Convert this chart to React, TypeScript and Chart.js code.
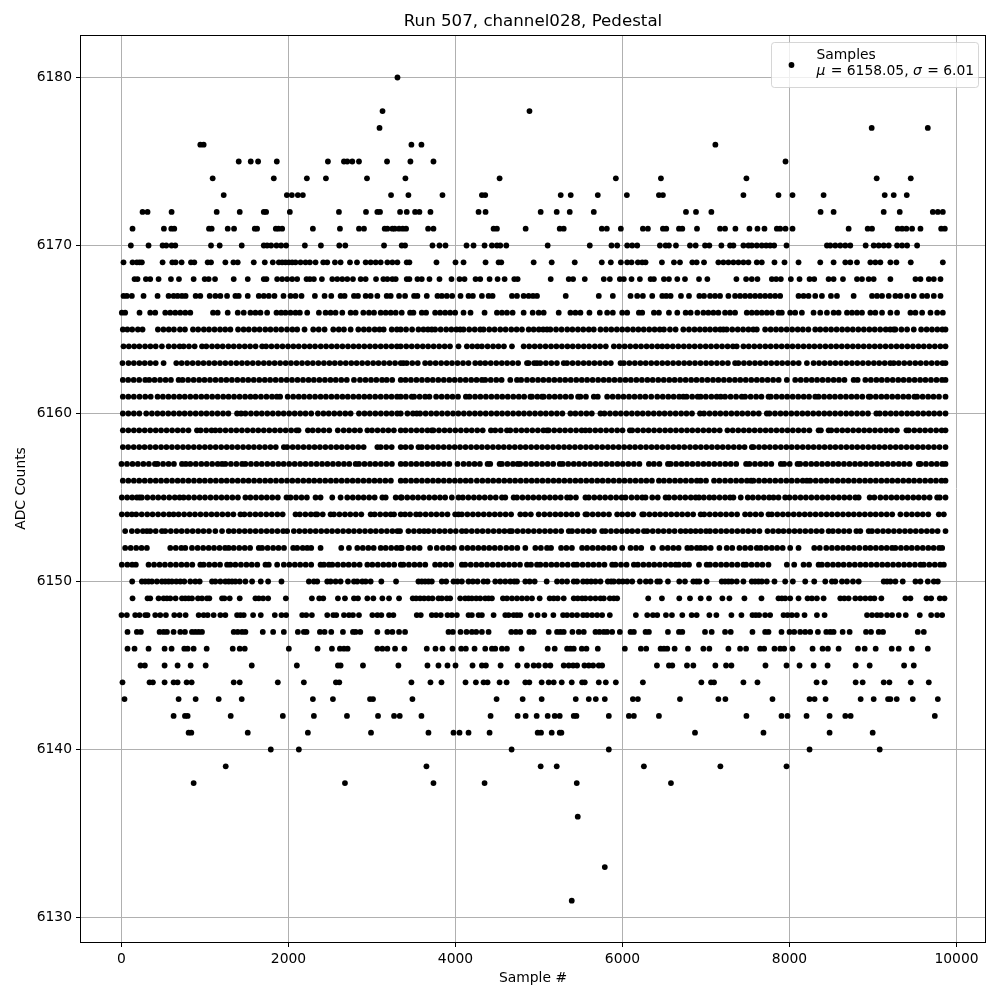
import React, { useEffect, useRef } from "react";
import { Chart, registerables } from "chart.js";

Chart.register(...registerables);

const title = "Run 507, channel028, Pedestal";
const xLabel = "Sample #";
const yLabel = "ADC Counts";
const seriesName = "Samples";
const statMu = "6158.05";
const statSigma = "6.01";
const xTicks = [0, 2000, 4000, 6000, 8000, 10000];
const yTicks = [6130, 6140, 6150, 6160, 6170, 6180];

const s6180 = [3305];
const s6178 = [3126, 4886];
const s6177 = [3090, 8984, 9656];
const s6176 = [944, 984, 3472, 3592, 7112];
const s6175 = [1404, 1548, 1636, 1860, 2472, 2664, 2704, 2764, 2844, 3180, 3460, 3736, 7952];
const s6174 = [1092, 1824, 2220, 2448, 2940, 3400, 4528, 5920, 6460, 7484, 9044, 9452];
const s6173 = [1224, 1980, 2040, 2112, 2172, 3228, 3436, 3844, 4316, 4356, 5260, 5380, 5704, 6052, 6436, 6484, 7448, 7868, 8036, 8408, 9140, 9248, 9404];
const s6172 = [252, 312, 600, 1140, 1416, 1704, 1732, 2016, 2604, 2928, 3064, 3096, 3336, 3416, 3516, 3568, 3700, 4276, 4360, 5020, 5212, 5368, 5656, 6760, 6880, 7064, 8372, 8528, 9128, 9320, 9716, 9776, 9836];
const s6171 = [132, 508, 596, 632, 1048, 1080, 1272, 1348, 1596, 1624, 1848, 1880, 1924, 2292, 2616, 2844, 2904, 3152, 3184, 3244, 3272, 3324, 3368, 3408, 3672, 3736, 4456, 4496, 4840, 5248, 5296, 5752, 5812, 5980, 6244, 6304, 6484, 6524, 6676, 6716, 6892, 7168, 7228, 7352, 7520, 7616, 7700, 7848, 7888, 7952, 8036, 8708, 8936, 8988, 9296, 9348, 9400, 9468, 9568, 9816, 9860];
const s6170 = [112, 324, 492, 536, 600, 644, 1072, 1176, 1440, 1704, 1744, 1792, 1856, 1912, 1972, 2196, 2388, 2608, 2680, 3144, 3356, 3396, 3724, 3808, 3880, 4132, 4216, 4348, 4436, 4496, 4536, 4608, 5104, 5608, 5868, 5936, 6056, 6116, 6176, 6448, 6516, 6556, 6640, 6808, 6876, 6988, 7040, 7184, 7288, 7328, 7448, 7508, 7548, 7608, 7668, 7720, 7768, 7816, 7964, 8448, 8488, 8548, 8608, 8668, 8728, 8912, 9008, 9068, 9128, 9188, 9288, 9348, 9408, 9528];
const s6169 = [24, 132, 184, 216, 244, 492, 608, 648, 720, 832, 872, 1032, 1072, 1244, 1340, 1392, 1584, 1716, 1812, 1884, 1924, 1964, 2004, 2044, 2084, 2144, 2204, 2256, 2324, 2416, 2464, 2556, 2624, 2736, 2820, 2924, 2984, 3044, 3104, 3184, 3244, 3304, 3416, 3448, 3772, 4000, 4096, 4360, 4516, 4548, 4936, 5152, 5428, 5752, 5860, 5980, 6056, 6108, 6184, 6236, 6276, 6472, 6616, 6688, 6836, 6888, 6976, 7148, 7208, 7268, 7328, 7388, 7448, 7508, 7608, 7668, 7820, 7940, 8108, 8368, 8528, 8668, 8728, 8808, 8968, 9028, 9088, 9208, 9280, 9452, 9836];
const s6168 = [156, 192, 292, 344, 444, 592, 688, 864, 996, 1044, 1120, 1344, 1512, 1704, 1736, 1864, 1924, 1984, 2044, 2104, 2216, 2256, 2304, 2400, 2524, 2584, 2644, 2704, 2772, 2864, 2924, 3048, 3136, 3184, 3244, 3284, 3416, 3448, 3544, 3596, 3688, 3808, 3952, 4048, 4108, 4240, 4296, 4408, 4504, 4588, 4704, 4744, 5140, 5356, 5408, 5548, 5776, 5848, 5968, 6016, 6108, 6208, 6336, 6376, 6496, 6556, 6656, 6748, 6916, 7016, 7364, 7480, 7548, 7616, 7788, 7840, 7896, 8016, 8120, 8240, 8296, 8468, 8528, 8640, 8808, 8868, 8948, 9008, 9208, 9508, 9568, 9668, 9728, 9808];
const s6167 = [24, 64, 124, 264, 432, 564, 624, 672, 724, 768, 888, 944, 1056, 1124, 1184, 1264, 1364, 1404, 1512, 1644, 1704, 1764, 1832, 1940, 2024, 2084, 2156, 2316, 2432, 2512, 2624, 2672, 2784, 2832, 2924, 2984, 3064, 3176, 3224, 3324, 3396, 3504, 3544, 3656, 3784, 3836, 3896, 3960, 4060, 4156, 4208, 4316, 4396, 4444, 4676, 4736, 4816, 4876, 4928, 4976, 5320, 5716, 5884, 6096, 6176, 6244, 6356, 6476, 6524, 6576, 6700, 6796, 6920, 6976, 7048, 7108, 7168, 7268, 7348, 7408, 7468, 7528, 7588, 7648, 7708, 7768, 7828, 7888, 8108, 8168, 8228, 8308, 8388, 8496, 8568, 8768, 8988, 9048, 9108, 9188, 9268, 9328, 9408, 9488, 9588, 9648, 9728, 9808];
const s6166 = [4, 44, 216, 344, 404, 524, 584, 644, 704, 764, 824, 1096, 1152, 1272, 1392, 1464, 1544, 1604, 1664, 1744, 1856, 1912, 1964, 2024, 2084, 2136, 2224, 2364, 2444, 2504, 2564, 2644, 2744, 2804, 2896, 2964, 3024, 3104, 3164, 3224, 3284, 3356, 3456, 3496, 3596, 3648, 3756, 3816, 3876, 3936, 3996, 4096, 4180, 4348, 4496, 4556, 4616, 4684, 4816, 4924, 4996, 5056, 5236, 5376, 5436, 5496, 5604, 5728, 5816, 5884, 5996, 6056, 6196, 6236, 6376, 6436, 6556, 6656, 6756, 6816, 6896, 6968, 7028, 7088, 7148, 7228, 7288, 7348, 7488, 7548, 7608, 7668, 7728, 7788, 7868, 7908, 8008, 8068, 8148, 8288, 8368, 8448, 8528, 8588, 8688, 8748, 8808, 8868, 8968, 9028, 9108, 9208, 9288, 9448, 9508, 9588, 9688, 9768, 9836];

const s6165 = [16, 70, 128, 196, 252, 436, 502, 566, 628, 700, 760, 856, 918, 986, 1048, 1114, 1180, 1242, 1304, 1396, 1462, 1524, 1592, 1654, 1722, 1784, 1850, 1914, 1982, 2046, 2104, 2192, 2296, 2362, 2432, 2536, 2602, 2664, 2744, 2836, 2902, 2964, 3032, 3090, 3140, 3236, 3298, 3344, 3408, 3480, 3556, 3616, 3670, 3716, 3756, 3822, 3888, 3950, 4010, 4056, 4096, 4164, 4230, 4296, 4336, 4404, 4468, 4536, 4600, 4668, 4732, 4796, 4876, 4936, 4998, 5050, 5096, 5136, 5204, 5270, 5338, 5400, 5466, 5530, 5596, 5656, 5736, 5802, 5866, 5932, 5996, 6060, 6126, 6190, 6254, 6320, 6384, 6446, 6496, 6568, 6636, 6728, 6796, 6862, 6926, 6988, 7048, 7112, 7170, 7208, 7248, 7314, 7380, 7444, 7508, 7566, 7608, 7708, 7774, 7838, 7900, 7966, 8032, 8098, 8160, 8226, 8308, 8368, 8434, 8498, 8564, 8630, 8694, 8758, 8824, 8890, 8956, 9020, 9086, 9152, 9206, 9248, 9268, 9340, 9408, 9488, 9576, 9642, 9706, 9770, 9830, 9868];
const s6164 = [24, 88, 152, 214, 282, 346, 410, 484, 564, 630, 696, 744, 808, 876, 964, 1016, 1084, 1148, 1212, 1280, 1344, 1410, 1476, 1540, 1606, 1684, 1732, 1796, 1862, 1928, 1994, 2058, 2122, 2190, 2254, 2318, 2386, 2450, 2516, 2580, 2646, 2712, 2778, 2842, 2908, 2974, 3038, 3104, 3168, 3234, 3298, 3344, 3410, 3476, 3542, 3608, 3672, 3738, 3804, 3870, 3934, 4036, 4136, 4200, 4262, 4316, 4384, 4450, 4514, 4580, 4676, 4816, 4882, 4948, 5012, 5078, 5144, 5208, 5274, 5340, 5404, 5470, 5536, 5600, 5668, 5732, 5800, 5896, 5960, 6026, 6092, 6158, 6222, 6288, 6352, 6418, 6476, 6536, 6602, 6668, 6734, 6798, 6864, 6930, 6996, 7060, 7126, 7192, 7258, 7322, 7368, 7448, 7512, 7578, 7644, 7710, 7774, 7840, 7906, 7972, 8036, 8102, 8168, 8234, 8298, 8364, 8430, 8496, 8560, 8626, 8692, 8758, 8822, 8888, 8954, 9020, 9084, 9150, 9216, 9282, 9346, 9412, 9478, 9544, 9608, 9674, 9740, 9806, 9868];
const s6163 = [12, 84, 148, 214, 278, 344, 410, 504, 656, 720, 786, 852, 918, 982, 1048, 1114, 1180, 1244, 1310, 1376, 1442, 1506, 1572, 1638, 1704, 1768, 1834, 1900, 1966, 2030, 2096, 2162, 2228, 2292, 2358, 2424, 2490, 2554, 2620, 2686, 2752, 2816, 2882, 2948, 3014, 3078, 3144, 3210, 3276, 3344, 3376, 3416, 3482, 3548, 3636, 3696, 3762, 3828, 3894, 3958, 4024, 4090, 4156, 4236, 4296, 4356, 4422, 4488, 4554, 4618, 4684, 4750, 4856, 4876, 4942, 4976, 5016, 5082, 5148, 5214, 5296, 5336, 5402, 5468, 5534, 5598, 5664, 5730, 5796, 5860, 5976, 6016, 6082, 6148, 6214, 6278, 6344, 6410, 6476, 6540, 6606, 6672, 6738, 6802, 6868, 6934, 7000, 7064, 7130, 7196, 7262, 7348, 7388, 7454, 7520, 7586, 7650, 7716, 7782, 7848, 7912, 7978, 8044, 8110, 8208, 8288, 8354, 8420, 8486, 8550, 8616, 8682, 8748, 8812, 8878, 8944, 9010, 9074, 9140, 9206, 9248, 9308, 9374, 9440, 9506, 9570, 9636, 9702, 9768, 9832, 9868];
const s6162 = [16, 80, 146, 212, 284, 332, 396, 462, 528, 592, 684, 732, 798, 864, 930, 994, 1060, 1126, 1192, 1256, 1322, 1388, 1454, 1518, 1584, 1650, 1716, 1780, 1846, 1912, 1978, 2042, 2108, 2174, 2240, 2304, 2370, 2436, 2502, 2566, 2632, 2698, 2784, 2856, 2922, 2988, 3052, 3120, 3176, 3242, 3344, 3402, 3466, 3532, 3598, 3664, 3728, 3794, 3860, 3926, 3990, 4056, 4122, 4188, 4252, 4316, 4356, 4422, 4488, 4552, 4656, 4736, 4786, 4856, 4922, 4988, 5052, 5118, 5184, 5250, 5314, 5380, 5446, 5512, 5576, 5642, 5708, 5774, 5838, 5904, 5970, 6036, 6100, 6166, 6232, 6298, 6362, 6428, 6494, 6560, 6624, 6690, 6756, 6822, 6886, 6952, 7018, 7084, 7148, 7214, 7280, 7346, 7410, 7476, 7542, 7608, 7672, 7738, 7804, 7870, 7968, 8068, 8134, 8200, 8266, 8330, 8396, 8462, 8528, 8592, 8658, 8768, 8816, 8908, 8974, 9040, 9104, 9170, 9236, 9302, 9366, 9432, 9498, 9564, 9628, 9694, 9760, 9826, 9868];
const s6161 = [16, 82, 148, 216, 284, 350, 432, 496, 562, 628, 694, 758, 824, 890, 956, 1020, 1086, 1152, 1218, 1282, 1348, 1414, 1480, 1544, 1604, 1670, 1736, 1802, 1860, 1900, 1990, 2056, 2122, 2186, 2252, 2318, 2384, 2448, 2514, 2580, 2646, 2710, 2776, 2842, 2908, 2972, 3038, 3104, 3170, 3234, 3300, 3344, 3406, 3476, 3504, 3570, 3636, 3688, 3768, 3834, 3900, 3964, 4030, 4124, 4168, 4234, 4298, 4364, 4430, 4496, 4560, 4626, 4692, 4758, 4822, 4896, 4916, 4980, 5036, 5056, 5122, 5188, 5252, 5318, 5384, 5468, 5496, 5562, 5656, 5704, 5816, 5882, 5948, 6012, 6078, 6144, 6210, 6274, 6344, 6416, 6482, 6548, 6612, 6678, 6728, 6768, 6834, 6900, 6936, 6998, 7064, 7128, 7176, 7228, 7294, 7360, 7428, 7468, 7534, 7600, 7664, 7748, 7776, 7842, 7908, 7972, 8038, 8104, 8170, 8234, 8308, 8348, 8414, 8480, 8544, 8610, 8676, 8742, 8806, 8872, 8948, 8968, 9034, 9100, 9164, 9230, 9296, 9362, 9426, 9496, 9528, 9594, 9660, 9724, 9790, 9868];
const s6160 = [16, 82, 148, 214, 296, 364, 430, 494, 560, 626, 692, 756, 822, 888, 954, 1018, 1084, 1150, 1216, 1280, 1384, 1432, 1484, 1550, 1616, 1680, 1746, 1812, 1878, 1942, 2008, 2074, 2140, 2204, 2272, 2352, 2418, 2482, 2548, 2614, 2680, 2744, 2844, 2910, 2974, 3040, 3106, 3172, 3236, 3302, 3344, 3424, 3490, 3536, 3576, 3642, 3708, 3772, 3838, 3904, 3970, 4034, 4100, 4166, 4232, 4296, 4362, 4428, 4494, 4558, 4624, 4690, 4756, 4820, 4886, 4952, 5018, 5082, 5148, 5214, 5280, 5376, 5436, 5502, 5568, 5632, 5736, 5784, 5850, 5916, 5980, 6046, 6112, 6178, 6242, 6308, 6374, 6440, 6504, 6570, 6636, 6702, 6766, 6832, 6928, 6976, 7042, 7108, 7172, 7238, 7304, 7370, 7434, 7500, 7566, 7632, 7728, 7760, 7826, 7892, 7956, 8022, 8088, 8154, 8218, 8284, 8350, 8416, 8480, 8546, 8612, 8678, 8742, 8808, 8874, 8940, 9040, 9080, 9146, 9212, 9276, 9342, 9408, 9470, 9536, 9602, 9668, 9732, 9798, 9868];
const s6159 = [16, 82, 148, 212, 278, 344, 410, 474, 540, 606, 672, 736, 802, 904, 948, 1014, 1078, 1124, 1180, 1246, 1312, 1376, 1442, 1508, 1574, 1638, 1704, 1770, 1836, 1900, 1966, 2032, 2096, 2120, 2232, 2290, 2356, 2422, 2488, 2590, 2660, 2726, 2792, 2856, 2944, 3000, 3066, 3132, 3196, 3262, 3344, 3402, 3468, 3534, 3598, 3664, 3716, 3736, 3802, 3868, 3932, 3998, 4064, 4130, 4194, 4260, 4326, 4424, 4476, 4542, 4616, 4656, 4724, 4790, 4854, 4920, 4986, 5052, 5096, 5116, 5182, 5248, 5312, 5378, 5444, 5510, 5556, 5608, 5674, 5738, 5804, 5870, 5936, 6000, 6088, 6116, 6182, 6248, 6312, 6378, 6444, 6510, 6574, 6640, 6706, 6772, 6836, 6902, 6968, 7034, 7098, 7164, 7256, 7320, 7386, 7452, 7516, 7582, 7648, 7714, 7778, 7844, 7910, 7976, 8040, 8106, 8172, 8238, 8348, 8376, 8468, 8500, 8566, 8632, 8696, 8762, 8828, 8894, 8958, 9024, 9090, 9156, 9220, 9286, 9400, 9428, 9494, 9560, 9624, 9690, 9756, 9822, 9868];
const s6158 = [16, 80, 146, 212, 276, 342, 408, 474, 538, 604, 670, 736, 800, 866, 932, 998, 1062, 1128, 1194, 1260, 1324, 1390, 1456, 1522, 1586, 1652, 1718, 1784, 1848, 1944, 1984, 2050, 2114, 2180, 2246, 2312, 2376, 2442, 2508, 2574, 2638, 2704, 2770, 2836, 2900, 3064, 3104, 3170, 3236, 3344, 3402, 3468, 3556, 3596, 3662, 3728, 3792, 3858, 3924, 3990, 4054, 4120, 4186, 4252, 4316, 4382, 4448, 4514, 4578, 4644, 4710, 4776, 4840, 4906, 4972, 5038, 5102, 5168, 5234, 5300, 5364, 5430, 5496, 5562, 5626, 5692, 5758, 5824, 5888, 5954, 6020, 6086, 6150, 6216, 6282, 6348, 6412, 6478, 6544, 6610, 6674, 6740, 6808, 6874, 6938, 7004, 7070, 7136, 7200, 7266, 7332, 7398, 7462, 7548, 7568, 7634, 7700, 7764, 7830, 7896, 7962, 8026, 8092, 8158, 8224, 8288, 8354, 8420, 8486, 8550, 8616, 8682, 8748, 8812, 8878, 8944, 9010, 9074, 9140, 9206, 9272, 9336, 9402, 9468, 9534, 9598, 9664, 9730, 9796, 9868];
const s6157 = [0, 66, 132, 196, 262, 328, 400, 432, 498, 564, 628, 724, 770, 824, 890, 956, 1020, 1086, 1152, 1204, 1244, 1310, 1376, 1444, 1484, 1550, 1616, 1680, 1746, 1812, 1878, 1942, 2008, 2074, 2140, 2204, 2270, 2336, 2402, 2466, 2532, 2598, 2664, 2728, 2804, 2844, 2910, 2976, 3040, 3106, 3172, 3238, 3344, 3402, 3468, 3532, 3598, 3664, 3730, 3794, 3860, 3926, 4024, 4096, 4162, 4228, 4292, 4384, 4416, 4528, 4556, 4622, 4688, 4744, 4776, 4842, 4908, 4972, 5038, 5104, 5170, 5248, 5284, 5350, 5416, 5480, 5546, 5612, 5678, 5742, 5808, 5874, 5940, 6004, 6070, 6136, 6202, 6316, 6376, 6442, 6544, 6576, 6642, 6708, 6772, 6838, 6904, 6970, 7034, 7100, 7166, 7232, 7296, 7362, 7480, 7520, 7586, 7652, 7716, 7782, 7896, 7936, 8002, 8096, 8128, 8194, 8260, 8324, 8390, 8456, 8522, 8586, 8652, 8718, 8784, 8848, 8914, 8980, 9046, 9110, 9176, 9242, 9308, 9372, 9438, 9548, 9568, 9634, 9700, 9764, 9830, 9868];
const s6156 = [16, 82, 148, 212, 278, 344, 410, 474, 540, 606, 672, 736, 802, 868, 934, 998, 1064, 1130, 1196, 1260, 1326, 1392, 1458, 1522, 1588, 1654, 1720, 1784, 1850, 1916, 1982, 2046, 2112, 2178, 2244, 2308, 2374, 2440, 2506, 2570, 2636, 2702, 2768, 2832, 2898, 2964, 3030, 3094, 3160, 3226, 3344, 3402, 3468, 3532, 3598, 3664, 3730, 3794, 3860, 3926, 3992, 4056, 4122, 4184, 4256, 4322, 4388, 4452, 4518, 4584, 4650, 4714, 4780, 4846, 4912, 4976, 5042, 5108, 5174, 5238, 5304, 5370, 5436, 5500, 5566, 5632, 5698, 5762, 5828, 5894, 5960, 6024, 6090, 6156, 6222, 6286, 6352, 6436, 6496, 6562, 6628, 6692, 6758, 6824, 6890, 6936, 7000, 7096, 7160, 7228, 7294, 7360, 7424, 7490, 7540, 7568, 7634, 7700, 7764, 7830, 7896, 7962, 8026, 8092, 8158, 8208, 8248, 8314, 8380, 8444, 8510, 8576, 8642, 8706, 8772, 8838, 8904, 8968, 9034, 9100, 9166, 9230, 9296, 9362, 9428, 9492, 9558, 9624, 9690, 9754, 9820, 9868];
const s6155 = [4, 68, 128, 184, 216, 244, 310, 376, 440, 506, 572, 638, 696, 744, 804, 870, 936, 1000, 1066, 1132, 1198, 1262, 1328, 1394, 1484, 1544, 1610, 1676, 1740, 1806, 1872, 1976, 2024, 2090, 2156, 2220, 2324, 2384, 2524, 2624, 2704, 2770, 2836, 2900, 2966, 3032, 3124, 3164, 3284, 3344, 3356, 3422, 3488, 3552, 3618, 3684, 3750, 3814, 3876, 3956, 4036, 4088, 4154, 4220, 4284, 4350, 4416, 4482, 4556, 4596, 4696, 4736, 4802, 4868, 4932, 4998, 5064, 5130, 5194, 5260, 5336, 5376, 5442, 5556, 5596, 5662, 5728, 5792, 5858, 5924, 5990, 6036, 6108, 6174, 6236, 6276, 6356, 6422, 6516, 6556, 6622, 6688, 6752, 6818, 6876, 6916, 6974, 7040, 7096, 7162, 7228, 7288, 7328, 7416, 7500, 7560, 7626, 7692, 7756, 7808, 7868, 7948, 8000, 8066, 8132, 8196, 8262, 8328, 8394, 8458, 8524, 8590, 8656, 8720, 8788, 8828, 8960, 9016, 9088, 9154, 9220, 9284, 9350, 9416, 9482, 9546, 9612, 9678, 9768, 9800, 9868];
const s6154 = [4, 68, 124, 176, 242, 308, 372, 438, 504, 570, 624, 684, 750, 816, 880, 946, 1012, 1078, 1142, 1208, 1274, 1340, 1424, 1472, 1538, 1604, 1668, 1734, 1800, 1866, 1930, 2084, 2136, 2202, 2268, 2324, 2344, 2410, 2504, 2544, 2610, 2676, 2740, 2806, 2872, 2984, 3032, 3098, 3164, 3224, 3264, 3344, 3396, 3456, 3528, 3576, 3642, 3708, 3772, 3838, 3904, 3996, 4036, 4076, 4142, 4208, 4272, 4338, 4404, 4470, 4534, 4600, 4666, 4776, 4836, 4902, 4996, 5064, 5130, 5196, 5260, 5326, 5392, 5458, 5556, 5576, 5642, 5708, 5772, 5838, 5936, 5996, 6062, 6128, 6236, 6256, 6322, 6388, 6452, 6518, 6584, 6650, 6714, 6780, 6846, 6936, 6978, 7044, 7110, 7174, 7240, 7306, 7372, 7468, 7528, 7594, 7660, 7748, 7788, 7854, 7920, 7984, 8050, 8116, 8182, 8246, 8312, 8378, 8444, 8508, 8574, 8640, 8706, 8770, 8836, 8902, 8968, 9032, 9098, 9164, 9230, 9328, 9400, 9466, 9532, 9596, 9662, 9788, 9848];
const s6153 = [44, 124, 190, 256, 304, 344, 410, 484, 524, 590, 656, 720, 786, 852, 918, 982, 1048, 1124, 1204, 1284, 1344, 1410, 1476, 1540, 1606, 1672, 1738, 1802, 1868, 1936, 1984, 2064, 2130, 2196, 2260, 2326, 2392, 2458, 2522, 2588, 2654, 2720, 2784, 2850, 2916, 2982, 3046, 3112, 3178, 3244, 3304, 3336, 3436, 3502, 3568, 3624, 3676, 3742, 3808, 3872, 3938, 4004, 4076, 4128, 4194, 4260, 4324, 4390, 4456, 4522, 4586, 4648, 4676, 4742, 4808, 4872, 4938, 5004, 5070, 5134, 5200, 5266, 5356, 5396, 5462, 5528, 5592, 5658, 5756, 5796, 5862, 5928, 5992, 6056, 6116, 6182, 6256, 6296, 6362, 6428, 6492, 6558, 6624, 6696, 6756, 6816, 6876, 6936, 7000, 7048, 7114, 7180, 7244, 7310, 7376, 7442, 7506, 7572, 7640, 7736, 7802, 7868, 7928, 7994, 8060, 8124, 8190, 8256, 8322, 8386, 8468, 8520, 8586, 8652, 8716, 8800, 8848, 8948, 8988, 9054, 9120, 9184, 9250, 9316, 9382, 9446, 9512, 9578, 9644, 9708, 9774, 9868];
const s6152 = [44, 110, 176, 240, 304, 584, 650, 716, 764, 844, 912, 978, 1044, 1108, 1174, 1240, 1284, 1344, 1410, 1476, 1540, 1644, 1684, 1750, 1816, 1880, 1946, 2056, 2104, 2170, 2224, 2272, 2384, 2632, 2724, 2824, 2890, 2956, 3020, 3104, 3164, 3230, 3296, 3344, 3356, 3436, 3504, 3570, 3696, 3776, 3848, 3914, 3980, 4076, 4144, 4208, 4274, 4340, 4404, 4470, 4536, 4608, 4674, 4740, 4836, 4956, 5022, 5096, 5144, 5264, 5328, 5394, 5516, 5576, 5642, 5708, 5772, 5838, 5904, 5996, 6096, 6162, 6224, 6364, 6476, 6542, 6608, 6672, 6776, 6824, 6890, 6936, 6990, 7056, 7160, 7248, 7314, 7400, 7468, 7534, 7608, 7656, 7722, 7788, 7852, 7918, 8008, 8108, 8296, 8362, 8440, 8508, 8574, 8640, 8704, 8770, 8836, 8908, 8968, 9034, 9100, 9164, 9228, 9268, 9334, 9400, 9464, 9530, 9596, 9662, 9726, 9792, 9828];
const s6151 = [4, 70, 128, 172, 324, 390, 456, 520, 586, 652, 718, 782, 848, 944, 984, 1050, 1116, 1180, 1264, 1304, 1364, 1430, 1496, 1560, 1626, 1724, 1764, 1864, 1944, 2010, 2076, 2140, 2206, 2272, 2384, 2424, 2484, 2524, 2590, 2656, 2720, 2786, 2852, 2944, 3004, 3070, 3136, 3200, 3266, 3344, 3376, 3442, 3508, 3572, 3638, 3756, 3816, 3882, 3948, 4076, 4116, 4182, 4248, 4312, 4378, 4444, 4510, 4574, 4640, 4706, 4772, 4856, 4904, 4976, 5016, 5082, 5148, 5212, 5278, 5344, 5416, 5456, 5522, 5588, 5652, 5718, 5784, 5876, 5916, 5982, 6048, 6136, 6184, 6250, 6316, 6380, 6446, 6512, 6578, 6636, 6676, 6742, 6796, 6916, 7008, 7048, 7114, 7180, 7244, 7310, 7376, 7448, 7480, 7546, 7612, 7676, 7748, 7968, 8056, 8168, 8234, 8348, 8388, 8454, 8520, 8584, 8648, 8716, 8782, 8848, 8912, 8978, 9044, 9110, 9174, 9240, 9306, 9372, 9436, 9502, 9568, 9608, 9674, 9740, 9804, 9848];

const s6150 = [128, 244, 284, 324, 364, 424, 484, 524, 564, 604, 656, 704, 752, 824, 884, 936, 1084, 1124, 1184, 1244, 1284, 1324, 1364, 1416, 1484, 1564, 1668, 1756, 1916, 2244, 2304, 2344, 2464, 2504, 2564, 2624, 2712, 2784, 2824, 2884, 2924, 2984, 3112, 3288, 3556, 3596, 3636, 3676, 3716, 3836, 3888, 3976, 4024, 4076, 4156, 4208, 4264, 4336, 4384, 4476, 4536, 4596, 4656, 4704, 4736, 4836, 4888, 4948, 5092, 5216, 5276, 5336, 5416, 5456, 5528, 5576, 5624, 5676, 5736, 5824, 5864, 5896, 5956, 6004, 6056, 6116, 6208, 6280, 6336, 6416, 6448, 6544, 6680, 6748, 6848, 6888, 6920, 7008, 7188, 7228, 7268, 7308, 7368, 7448, 7548, 7588, 7628, 7668, 7728, 7820, 7948, 8040, 8188, 8296, 8428, 8508, 8548, 8628, 8688, 8760, 8828, 9128, 9168, 9208, 9268, 9356, 9508, 9568, 9656, 9728, 9776];
const s6149 = [132, 312, 344, 444, 504, 544, 584, 648, 724, 764, 804, 844, 916, 964, 1024, 1052, 1204, 1232, 1296, 1416, 1604, 1644, 1696, 1756, 1968, 2280, 2368, 2416, 2592, 2676, 2784, 2832, 2944, 3016, 3124, 3204, 3324, 3488, 3528, 3576, 3624, 3676, 3724, 3796, 3836, 3896, 3936, 4056, 4116, 4156, 4196, 4248, 4296, 4356, 4396, 4436, 4568, 4616, 4676, 4736, 4796, 4856, 4916, 5008, 5128, 5176, 5224, 5296, 5416, 5464, 5516, 5556, 5616, 5676, 5736, 5776, 5848, 5896, 5936, 6308, 6472, 6680, 6808, 6936, 7036, 7196, 7280, 7460, 7664, 7868, 7908, 7948, 8008, 8108, 8216, 8268, 8328, 8408, 8608, 8656, 8708, 8788, 8848, 8908, 8968, 9016, 9100, 9388, 9448, 9640, 9696, 9800, 9856];
const s6148 = [0, 64, 164, 216, 284, 312, 404, 464, 532, 632, 696, 768, 924, 984, 1032, 1104, 1184, 1244, 1384, 1424, 1464, 1576, 1668, 1836, 1916, 1972, 2164, 2212, 2280, 2464, 2536, 2572, 2664, 2724, 2772, 2844, 3004, 3064, 3112, 3204, 3256, 3536, 3584, 3716, 3768, 3824, 3904, 3956, 4016, 4156, 4196, 4276, 4316, 4456, 4596, 4636, 4696, 4736, 4776, 4904, 4984, 5064, 5172, 5288, 5336, 5396, 5456, 5528, 5576, 5636, 5696, 5756, 5848, 6160, 6296, 6364, 6416, 6520, 6592, 6716, 6828, 6888, 7040, 7124, 7304, 7424, 7556, 7596, 7636, 7708, 7768, 7928, 7976, 8028, 8088, 8180, 8328, 8420, 8928, 8988, 9048, 9096, 9168, 9228, 9308, 9392, 9560, 9696, 9768, 9828];
const s6147 = [72, 184, 232, 456, 504, 544, 624, 704, 760, 844, 884, 924, 964, 1344, 1392, 1444, 1484, 1692, 1816, 1944, 2112, 2184, 2216, 2376, 2432, 2512, 2652, 2772, 2804, 2860, 3064, 3184, 3244, 3324, 3396, 3916, 3968, 4060, 4132, 4196, 4248, 4316, 4396, 4668, 4724, 4776, 4884, 4936, 5116, 5216, 5256, 5296, 5400, 5476, 5536, 5676, 5724, 5776, 5816, 5876, 5968, 6096, 6136, 6276, 6316, 6544, 6676, 6716, 6988, 7068, 7228, 7296, 7556, 7708, 7748, 7904, 8000, 8056, 8128, 8188, 8248, 8340, 8440, 8488, 8528, 8636, 8720, 8916, 8976, 9068, 9120, 9536, 9608];
const s6146 = [72, 156, 324, 516, 600, 752, 792, 864, 1020, 1332, 1416, 1476, 2004, 2348, 2520, 2616, 2664, 2708, 3064, 3124, 3184, 3276, 3388, 3656, 3760, 3844, 3964, 4068, 4124, 4228, 4356, 4436, 4476, 4556, 4616, 4792, 5104, 5188, 5336, 5376, 5416, 5512, 5568, 5704, 6028, 6220, 6284, 6456, 6496, 6536, 6624, 6784, 6968, 7040, 7268, 7408, 7480, 7648, 7696, 7820, 7888, 7936, 8036, 8276, 8396, 8460, 8588, 8820, 8900, 9032, 9224, 9308, 9464, 9656];
const s6145 = [228, 280, 516, 672, 828, 1008, 1560, 2100, 2592, 2624, 2892, 3316, 3664, 3796, 3904, 4000, 4204, 4316, 4364, 4540, 4744, 4856, 4936, 4996, 5076, 5136, 5296, 5356, 5408, 5456, 5544, 5596, 5648, 5716, 5756, 6412, 6556, 6596, 6772, 6848, 7112, 7240, 7304, 7712, 7964, 8120, 8288, 8456, 8792, 8960, 9372, 9488];
const s6144 = [12, 336, 376, 516, 624, 672, 780, 840, 1344, 1416, 1872, 2184, 2568, 2608, 3472, 3700, 3832, 4120, 4244, 4336, 4384, 4528, 4612, 4836, 4884, 5032, 5116, 5176, 5272, 5392, 5516, 5548, 5716, 5800, 5920, 6244, 6944, 7060, 7096, 7448, 7616, 8324, 8420, 8792, 8876, 9128, 9196, 9452, 9668];
const s6143 = [36, 684, 888, 1164, 1440, 2292, 2532, 2976, 3012, 3484, 4492, 4804, 5032, 5440, 5596, 5680, 5788, 6124, 6184, 6688, 7148, 7232, 7796, 8240, 8300, 8432, 8852, 9008, 9180, 9208, 9284, 9476, 9776];
const s6142 = [624, 760, 792, 1308, 1932, 2304, 2700, 3072, 3264, 3332, 3592, 4420, 4744, 4840, 4972, 5104, 5188, 5248, 5416, 5448, 5836, 6076, 6136, 6436, 7484, 7904, 7976, 8204, 8480, 8668, 8732, 9740];
const s6141 = [804, 836, 1512, 2232, 2988, 3676, 3976, 4048, 4156, 4408, 4984, 5024, 5152, 5248, 5268, 6868, 7688, 8480, 8996];
const s6140 = [1788, 2124, 4672, 5836, 8240, 9080];
const s6139 = [1248, 3652, 5020, 5212, 6256, 7172, 7964];
const s6138 = [864, 2676, 3736, 4348, 5452, 6580];
const s6136 = [5464];
const s6133 = [5788];
const s6131 = [5392];

const levels: [number, number[]][] = [
  [6180, s6180], [6178, s6178], [6177, s6177], [6176, s6176], [6175, s6175], [6174, s6174],
  [6173, s6173], [6172, s6172], [6171, s6171], [6170, s6170], [6169, s6169], [6168, s6168],
  [6167, s6167], [6166, s6166], [6165, s6165], [6164, s6164], [6163, s6163], [6162, s6162],
  [6161, s6161], [6160, s6160], [6159, s6159], [6158, s6158], [6157, s6157], [6156, s6156],
  [6155, s6155], [6154, s6154], [6153, s6153], [6152, s6152], [6151, s6151], [6150, s6150],
  [6149, s6149], [6148, s6148], [6147, s6147], [6146, s6146], [6145, s6145], [6144, s6144],
  [6143, s6143], [6142, s6142], [6141, s6141], [6140, s6140], [6139, s6139], [6138, s6138],
  [6136, s6136], [6133, s6133], [6131, s6131],
];

const FONT = "'DejaVu Sans'";

const framePlugin = {
  id: "frame",
  afterDatasetsDraw(chart: any) {
    const { ctx, chartArea: a } = chart;
    ctx.save();
    ctx.strokeStyle = "#000";
    ctx.lineWidth = 1;
    ctx.strokeRect(Math.round(a.left) - 0.5, Math.round(a.top) + 0.5, Math.round(a.right - a.left) + 1, Math.round(a.bottom - a.top));

    // legend box
    const bx = 771.5, by = 42.5, bw = 207, bh = 45, r = 3;
    ctx.beginPath();
    ctx.roundRect(bx, by, bw, bh, r);
    ctx.fillStyle = "rgba(255,255,255,0.8)";
    ctx.fill();
    ctx.strokeStyle = "rgba(204,204,204,0.8)";
    ctx.lineWidth = 1;
    ctx.stroke();

    ctx.fillStyle = "#000";
    ctx.beginPath();
    ctx.arc(791.5, 65, 2.9, 0, Math.PI * 2);
    ctx.fill();

    ctx.textBaseline = "alphabetic";
    ctx.textAlign = "left";
    const size = 13.89;
    ctx.font = `${size}px ${FONT}`;
    ctx.fillText(seriesName, 816.5, 59);
    const parts: [string, boolean][] = [
      ["\u03bc", true],
      [` = ${statMu}, `, false],
      ["\u03c3", true],
      [` = ${statSigma}`, false],
    ];
    let x = 816.5;
    for (const [t, it] of parts) {
      ctx.font = `${it ? "italic " : ""}${size}px ${FONT}`;
      ctx.fillText(t, x, 75);
      x += ctx.measureText(t).width + (it ? 1 : 0);
    }
    ctx.restore();
  },
};

export default function App() {
  const ref = useRef<HTMLCanvasElement>(null);
  useEffect(() => {
    const data = levels.flatMap(([y, xs]) => xs.map((x) => ({ x, y })));
    const tickFont = { family: FONT, size: 13.89 };
    const chart = new Chart(ref.current!, {
      type: "scatter",
      data: {
        datasets: [
          {
            label: seriesName,
            data,
            backgroundColor: "#000",
            borderColor: "#000",
            pointRadius: 2.9,
            pointBorderWidth: 0,
            showLine: false,
          },
        ],
      },
      options: {
        animation: false,
        responsive: false,
        layout: { padding: { right: 15, top: 0, left: 0, bottom: 0 } },
        plugins: {
          legend: { display: false },
          tooltip: { enabled: false },
          title: {
            display: true,
            fullSize: false,
            text: title,
            color: "#000",
            font: { family: FONT, size: 16.67, weight: "normal", lineHeight: 1.2 },
            padding: { top: 12, bottom: 3 },
          },
        },
        scales: {
          x: {
            type: "linear",
            min: -485,
            max: 10341,
            afterFit: (s: any) => { s.height = 58; },
            afterBuildTicks: (s: any) => { s.ticks = xTicks.map((value) => ({ value })); },
            ticks: { color: "#000", font: tickFont, padding: 4, maxRotation: 0, autoSkip: false, callback: (v: any) => String(v) },
            grid: { color: "#b0b0b0", lineWidth: 1, tickLength: 5, tickColor: "#000" },
            border: { display: false },
            title: { display: true, text: xLabel, color: "#000", font: tickFont, padding: { top: 0, bottom: 13 } },
          },
          y: {
            type: "linear",
            min: 6128.54,
            max: 6182.53,
            afterFit: (s: any) => { s.width = 81; },
            afterBuildTicks: (s: any) => { s.ticks = yTicks.map((value) => ({ value })); },
            ticks: { color: "#000", font: tickFont, padding: 4, autoSkip: false, callback: (v: any) => String(v) },
            grid: { color: "#b0b0b0", lineWidth: 1, tickLength: 5, tickColor: "#000" },
            border: { display: false },
            title: { display: true, text: yLabel, color: "#000", font: tickFont, padding: { top: 13, bottom: 0 } },
          },
        },
      } as any,
      plugins: [framePlugin],
    });
    return () => chart.destroy();
  }, []);
  return (
    <div style={{ position: "fixed", left: 0, top: 0, width: 1000, height: 1000, background: "#fff" }}>
      <canvas ref={ref} width={1000} height={1000} style={{ display: "block", width: 1000, height: 1000 }} />
    </div>
  );
}
